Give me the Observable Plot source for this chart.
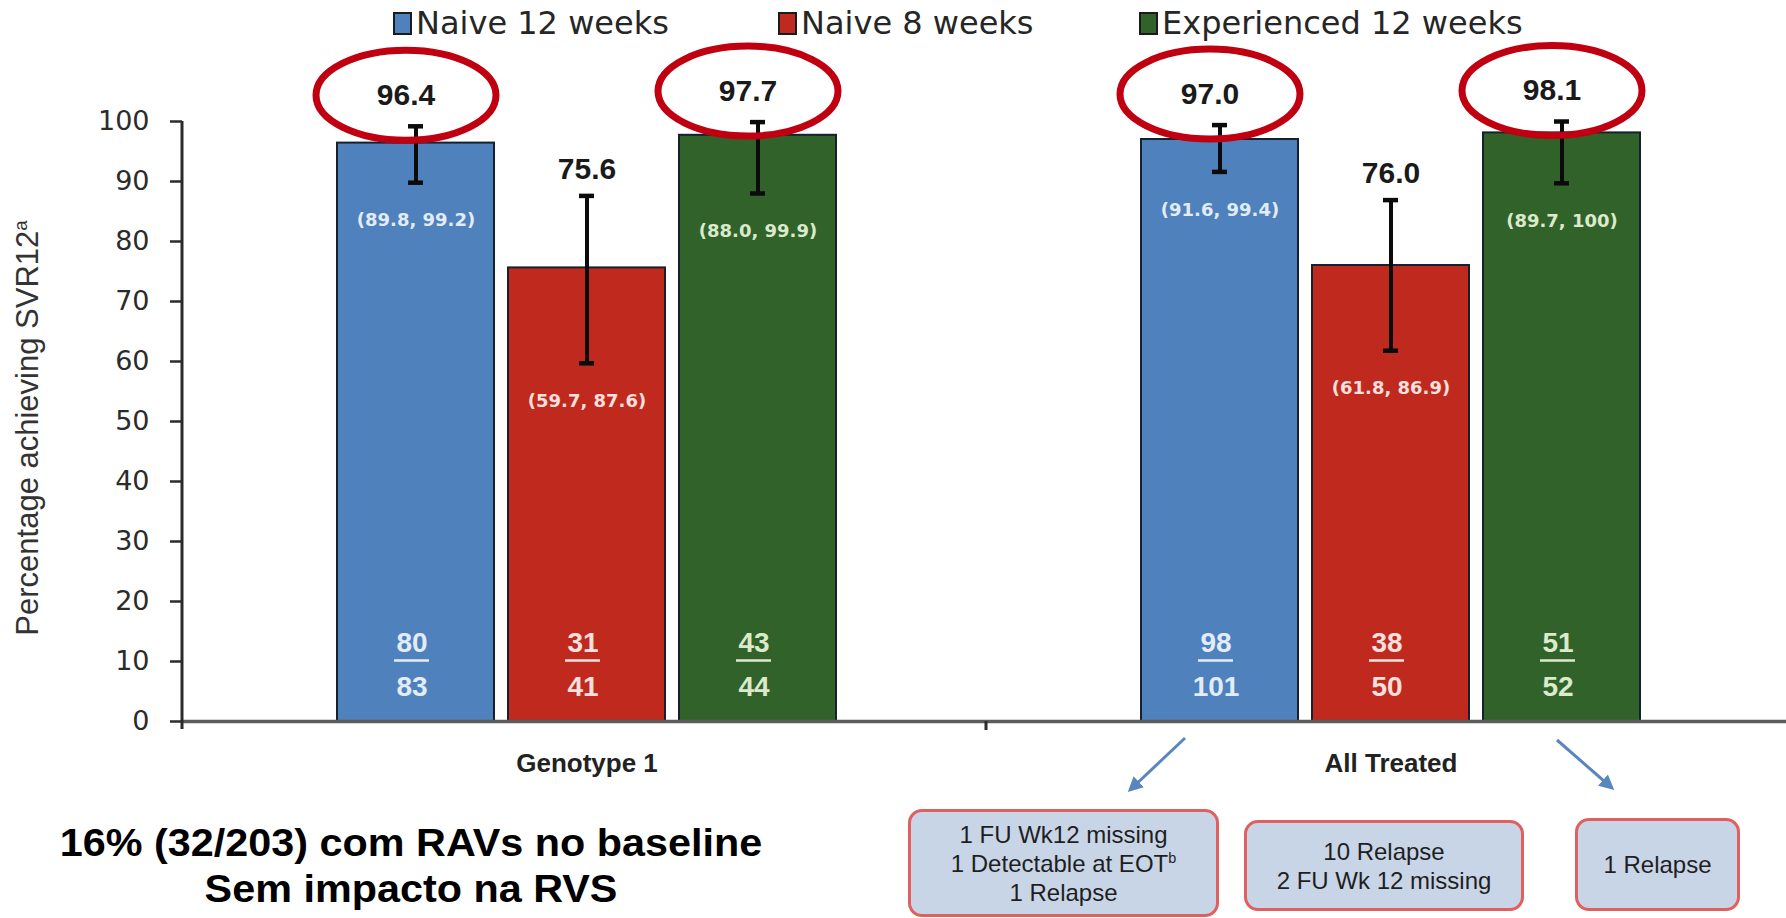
<!DOCTYPE html>
<html>
<head>
<meta charset="utf-8">
<script src="https://cdn.jsdelivr.net/npm/d3@7"></script>
<script src="https://cdn.jsdelivr.net/npm/@observablehq/plot@0.6"></script>
<style>
  html, body { margin: 0; padding: 0; background: #ffffff; }
  #wrap { position: relative; width: 1786px; height: 918px; overflow: hidden; background: #fff; }
  #wrap svg.main { position: absolute; left: 0; top: 0; }
  .legend-item { position: absolute; top: 5px; height: 36px; display: flex; align-items: center;
    font-family: "DejaVu Sans", sans-serif; font-size: 32px; color: #262626; white-space: nowrap; }
  .legend-item .sw { width: 15px; height: 19px; border: 2px solid #1b1b1b; margin-right: 4px; box-sizing: content-box; }
  .ytitle { position: absolute; left: 28px; top: 428px; transform: translate(-50%, -50%) rotate(-90deg);
    font-family: "Liberation Sans", Arial, sans-serif; font-size: 31px; color: #333; white-space: nowrap; }
  .ytitle sup { font-size: 60%; }
  .foot { position: absolute; left: 411px; transform: translate(-50%, -50%) scaleX(1.06); text-align: center;
    font-family: "Liberation Sans", Arial, sans-serif; font-weight: 700; font-size: 39px; line-height: 45px;
    height: 45px; color: #000; white-space: nowrap; }
  .box { position: absolute; box-sizing: border-box; border: 3px solid #e0605f; border-radius: 14px;
    background: #c8d5e7; display: flex; flex-direction: column; justify-content: center; align-items: center;
    font-family: "Liberation Sans", Arial, sans-serif; font-size: 24px; line-height: 29px; color: #1f1f1f; white-space: nowrap; }
  .box sup { font-size: 60%; line-height: 0; }
  svg.overlay { position: absolute; left: 0; top: 0; pointer-events: none; }
</style>
</head>
<body>
<div id="wrap"></div>
<script>
// ---------------- data ----------------
const groups = ["Genotype 1", "All Treated"];
const series = ["Naive 12 weeks", "Naive 8 weeks", "Experienced 12 weeks"];
const seriesColors = ["#4f81bd", "#c0291d", "#31622a"];
const labelTints = ["#e2ecf7", "#f7e0de", "#dbeacb"];

const svrGenotype1 = [96.4, 75.6, 97.7];
const svrAllTreated = [97.0, 76.0, 98.1];
const ciLowGenotype1 = [89.8, 59.7, 88.0];
const ciHighGenotype1 = [99.2, 87.6, 99.9];
const ciLowAllTreated = [91.6, 61.8, 89.7];
const ciHighAllTreated = [99.4, 86.9, 100];
const respondersGenotype1 = [80, 31, 43];
const totalGenotype1 = [83, 41, 44];
const respondersAllTreated = [98, 38, 51];
const totalAllTreated = [101, 50, 52];

const yTicks = [0, 10, 20, 30, 40, 50, 60, 70, 80, 90, 100];
const yTitle = "Percentage achieving SVR12";
const outcomeBoxes = [
  ["1 FU Wk12 missing", "1 Detectable at EOT<sup>b</sup>", "1 Relapse"],
  ["10 Relapse", "2 FU Wk 12 missing"],
  ["1 Relapse"]
];
const footLines = ["16% (32/203) com RAVs no baseline", "Sem impacto na RVS"];

// ---------------- table built from arrays ----------------
const svr = [svrGenotype1, svrAllTreated];
const ciLow = [ciLowGenotype1, ciLowAllTreated];
const ciHigh = [ciHighGenotype1, ciHighAllTreated];
const responders = [respondersGenotype1, respondersAllTreated];
const totals = [totalGenotype1, totalAllTreated];
const rows = [];
groups.forEach((g, gi) => series.forEach((s, si) => rows.push({
  group: g, series: s, si,
  value: svr[gi][si], lo: ciLow[gi][si], hi: ciHigh[gi][si],
  resp: responders[gi][si], total: totals[gi][si]
})));
const fmtCI = v => (v === 100 ? "100" : v.toFixed(1));

// ellipse symbol for highlighted values
const RX = 90, RY = 45, K = 0.5523;
const ellipse = {
  draw(ctx) {
    ctx.moveTo(RX, 0);
    ctx.bezierCurveTo(RX, RY * K, RX * K, RY, 0, RY);
    ctx.bezierCurveTo(-RX * K, RY, -RX, RY * K, -RX, 0);
    ctx.bezierCurveTo(-RX, -RY * K, -RX * K, -RY, 0, -RY);
    ctx.bezierCurveTo(RX * K, -RY, RX, -RY * K, RX, 0);
    ctx.closePath();
  }
};

const pos = {fx: "group", x: "series"};
const circled = rows.filter(d => d.si !== 1);
const plain = rows.filter(d => d.si === 1);

const perSeriesText = [];
series.forEach((s, si) => {
  const sub = rows.filter(d => d.si === si);
  perSeriesText.push(
    Plot.text(sub, {...pos, y: "lo", dy: 38, text: d => `(${fmtCI(d.lo)}, ${fmtCI(d.hi)})`,
      fill: labelTints[si], fontFamily: "DejaVu Sans", fontWeight: "bold", fontSize: 18}),
    Plot.text(sub, {...pos, y: () => 0, dy: -78, dx: -4, text: d => String(d.resp),
      fill: labelTints[si], fontFamily: "Liberation Sans", fontWeight: "bold", fontSize: 28}),
    Plot.text(sub, {...pos, y: () => 0, dy: -34, dx: -4, text: d => String(d.total),
      fill: labelTints[si], fontFamily: "Liberation Sans", fontWeight: "bold", fontSize: 28}),
    Plot.tickY(sub, {...pos, y: () => 0, dy: -61, dx: -4, stroke: labelTints[si], strokeWidth: 2.5,
      insetLeft: 61, insetRight: 61})
  );
});

const plot = Plot.plot({
  width: 1786,
  height: 918,
  marginLeft: 182,
  marginRight: 0,
  marginTop: 121,
  marginBottom: 197,
  style: {background: "transparent", overflow: "visible", fontFamily: "DejaVu Sans", fontSize: "27px", color: "#2b2b2b"},
  fx: {domain: groups, paddingInner: 0.1866, paddingOuter: 0.0908, align: 0, axis: null, label: null},
  x: {domain: series, paddingInner: 0.082, paddingOuter: 0.453, align: 1, axis: null, label: null},
  y: {domain: [0, 100], label: null},
  color: {domain: series, range: seriesColors},
  marks: [
    Plot.axisY(yTicks, {tickSize: 12, tickPadding: 21, strokeWidth: 2.5, fontSize: 27,
      fontFamily: "DejaVu Sans", label: null}),
    Plot.barY(rows, {...pos, y: "value", fill: "series", stroke: "#16212e", strokeWidth: 2}),
    Plot.ruleY([0], {stroke: "#5c5c5c", strokeWidth: 3.5, insetRight: -150}),
    Plot.ruleX(rows, {...pos, y1: "lo", y2: "hi", stroke: "#0b0b0b", strokeWidth: 4}),
    Plot.tickY(rows, {...pos, y: "lo", stroke: "#0b0b0b", strokeWidth: 4.5, insetLeft: 71, insetRight: 71}),
    Plot.tickY(rows, {...pos, y: "hi", stroke: "#0b0b0b", strokeWidth: 4.5, insetLeft: 71, insetRight: 71}),
    ...perSeriesText,
    Plot.text(circled, {...pos, y: "hi", dy: -31, dx: -10, text: d => d.value.toFixed(1),
      fill: "#1a1a1a", fontFamily: "Liberation Sans", fontWeight: "bold", fontSize: 30}),
    Plot.text(plain, {...pos, y: "hi", dy: -27, text: d => d.value.toFixed(1),
      fill: "#1a1a1a", fontFamily: "Liberation Sans", fontWeight: "bold", fontSize: 30}),
    Plot.dot(circled, {...pos, y: "hi", dy: -31, dx: -10, symbol: ellipse, r: 10,
      fill: "none", stroke: "#c00010", strokeWidth: 7}),
    Plot.text(groups, {fx: d => d, x: () => series[1], frameAnchor: "bottom", dy: 50, text: d => d,
      fill: "#222", fontFamily: "Liberation Sans", fontWeight: "bold", fontSize: 26})
  ]
});
plot.classList.add("main");

const wrap = document.getElementById("wrap");
wrap.appendChild(plot);

// axis lines derived from the plot's scales
const fxS = plot.scale("fx");
const yS = plot.scale("y");
const left = fxS.apply(groups[0]);
const sep = fxS.apply(groups[1]);
const y0 = yS.apply(0), y100 = yS.apply(100);
const s = d3.select(plot);
s.append("line").attr("x1", left).attr("x2", left).attr("y1", y100).attr("y2", y0 + 8)
  .attr("stroke", "#2b2b2b").attr("stroke-width", 3);
s.append("line").attr("x1", sep).attr("x2", sep).attr("y1", y0).attr("y2", y0 + 9)
  .attr("stroke", "#2b2b2b").attr("stroke-width", 3);

// legend
const legendLeft = [393, 778, 1139];
series.forEach((name, i) => {
  const item = document.createElement("div");
  item.className = "legend-item";
  item.style.left = legendLeft[i] + "px";
  item.innerHTML = `<div class="sw" style="background:${seriesColors[i]}"></div><span>${name}</span>`;
  wrap.appendChild(item);
});

// y title
const yt = document.createElement("div");
yt.className = "ytitle";
yt.innerHTML = `${yTitle}<sup>a</sup>`;
wrap.appendChild(yt);

// footnote, one element per line
const footTops = [842, 888];
footLines.forEach((line, i) => {
  const ft = document.createElement("div");
  ft.className = "foot";
  ft.style.top = footTops[i] + "px";
  ft.textContent = line;
  wrap.appendChild(ft);
});

// outcome boxes
const boxGeom = [
  {left: 908, top: 809, width: 311, height: 108},
  {left: 1244, top: 820, width: 280, height: 91},
  {left: 1575, top: 818, width: 165, height: 93}
];
outcomeBoxes.forEach((lines, i) => {
  const b = document.createElement("div");
  b.className = "box";
  Object.entries(boxGeom[i]).forEach(([k, v]) => b.style[k] = v + "px");
  b.innerHTML = lines.map(l => `<div>${l}</div>`).join("");
  wrap.appendChild(b);
});

// arrows
const ov = d3.select(wrap).append("svg").attr("class", "overlay").attr("width", 1786).attr("height", 918);
ov.append("defs").append("marker").attr("id", "ah").attr("viewBox", "0 0 10 10")
  .attr("refX", 8).attr("refY", 5).attr("markerWidth", 5).attr("markerHeight", 5)
  .attr("orient", "auto").append("path").attr("d", "M0,0 L10,5 L0,10 z").attr("fill", "#5a86c0");
[[1185, 738, 1130, 790], [1557, 740, 1612, 788]].forEach(([a, b, c, d]) => {
  ov.append("line").attr("x1", a).attr("y1", b).attr("x2", c).attr("y2", d)
    .attr("stroke", "#5a86c0").attr("stroke-width", 3).attr("marker-end", "url(#ah)");
});
</script>
</body>
</html>
